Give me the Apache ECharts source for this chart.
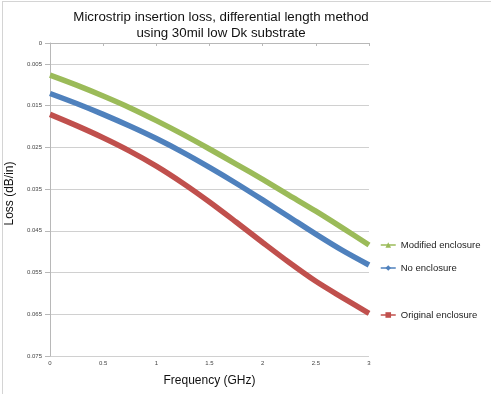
<!DOCTYPE html>
<html>
<head>
<meta charset="utf-8">
<script src="https://cdn.jsdelivr.net/npm/echarts@6/dist/echarts.min.js"></script>
<style>html,body{margin:0;padding:0;background:#fff}#c{width:491px;height:394px}</style>
</head>
<body>
<div id="c"></div>
<script>
var freq = [0, 0.25, 0.5, 0.75, 1.0, 1.25, 1.5, 1.75, 2.0, 2.25, 2.5, 2.75, 3.0];
var modifiedEnclosure = [0.0077, 0.0101, 0.0127, 0.0155, 0.0186, 0.0219, 0.0254, 0.0290, 0.0327, 0.0365, 0.0403, 0.0443, 0.0484];
var noEnclosure = [0.0121, 0.0145, 0.0171, 0.0199, 0.0229, 0.0262, 0.0298, 0.0336, 0.0376, 0.0417, 0.0458, 0.0497, 0.0532];
var originalEnclosure = [0.0171, 0.0198, 0.0227, 0.0259, 0.0295, 0.0336, 0.0381, 0.0429, 0.0478, 0.0526, 0.0571, 0.0610, 0.0648];
var yTicks = [0, 0.005, 0.015, 0.025, 0.035, 0.045, 0.055, 0.065, 0.075];
var xTicks = [0, 0.5, 1, 1.5, 2, 2.5, 3];
var seriesNames = ['Modified enclosure', 'No enclosure', 'Original enclosure'];

function pairs(v) { return freq.map(function (f, i) { return [f, v[i]]; }); }

var chart = echarts.init(document.getElementById('c'), null, {renderer: 'canvas'});
var font = 'Liberation Sans, Arial, sans-serif';
function legendFor(name, top) {
  return {
    data: [name], left: 380, top: top, orient: 'vertical',
    itemWidth: 15, itemHeight: 7, padding: 0,
    textStyle: {fontFamily: font, fontSize: 9.5, color: '#222'},
    lineStyle: {width: 1.5}
  };
}
chart.setOption({
  animation: false,
  title: {
    text: 'Microstrip insertion loss, differential length method\nusing 30mil low Dk substrate',
    left: 216, top: 4, textAlign: 'center',
    textStyle: {fontFamily: font, fontSize: 13.3, fontWeight: 'normal', color: '#111', lineHeight: 16}
  },
  graphic: [
    {type: 'line', shape: {x1: 2, y1: 1.5, x2: 491, y2: 1.5}, style: {stroke: '#d4d4d4', lineWidth: 1}},
    {type: 'line', shape: {x1: 2.5, y1: 1, x2: 2.5, y2: 394}, style: {stroke: '#d4d4d4', lineWidth: 1}}
  ],
  legend: [
    legendFor(seriesNames[0], 240),
    legendFor(seriesNames[1], 263),
    legendFor(seriesNames[2], 310)
  ],
  grid: {left: 50, right: 122, top: 43, bottom: 38, outerBoundsMode: 'none', containLabel: false},
  xAxis: {
    type: 'value', min: 0, max: 3, interval: 0.5,
    name: 'Frequency (GHz)', nameLocation: 'middle', nameGap: 19,
    nameTextStyle: {fontFamily: font, fontSize: 12, color: '#111'},
    axisLine: {show: true, lineStyle: {color: '#b8b8b8'}},
    axisTick: {show: true, length: 3, lineStyle: {color: '#b8b8b8'}},
    axisLabel: {fontFamily: font, fontSize: 6, color: '#444', margin: 4,
      customValues: xTicks},
    splitLine: {show: false}
  },
  yAxis: {
    type: 'value', inverse: true, min: 0, max: 0.075, interval: 0.005,
    name: 'Loss (dB/in)', nameLocation: 'middle', nameGap: 27, nameRotate: 90,
    nameTextStyle: {fontFamily: font, fontSize: 12, color: '#111', padding: [6, 0, 0, 12]},
    axisLine: {show: true, lineStyle: {color: '#b8b8b8'}},
    axisTick: {show: true, length: 5, lineStyle: {color: '#b8b8b8'}, customValues: yTicks},
    axisLabel: {fontFamily: font, fontSize: 6, color: '#444', margin: 8, customValues: yTicks},
    splitLine: {show: true, lineStyle: {color: '#d0d0d0'}}
  },
  series: [
    {name: seriesNames[0], type: 'line', data: pairs(modifiedEnclosure), smooth: 0.3,
      symbol: 'triangle', symbolSize: 6, showSymbol: false,
      lineStyle: {width: 5.5, color: '#9BBB59'}, itemStyle: {color: '#9BBB59'}, z: 3},
    {name: seriesNames[1], type: 'line', data: pairs(noEnclosure), smooth: 0.3,
      symbol: 'diamond', symbolSize: 6, showSymbol: false,
      lineStyle: {width: 5.5, color: '#4F81BD'}, itemStyle: {color: '#4F81BD'}, z: 3},
    {name: seriesNames[2], type: 'line', data: pairs(originalEnclosure), smooth: 0.3,
      symbol: 'rect', symbolSize: 5, showSymbol: false,
      lineStyle: {width: 5.5, color: '#C0504D'}, itemStyle: {color: '#C0504D'}, z: 3}
  ]
});
</script>
</body>
</html>
